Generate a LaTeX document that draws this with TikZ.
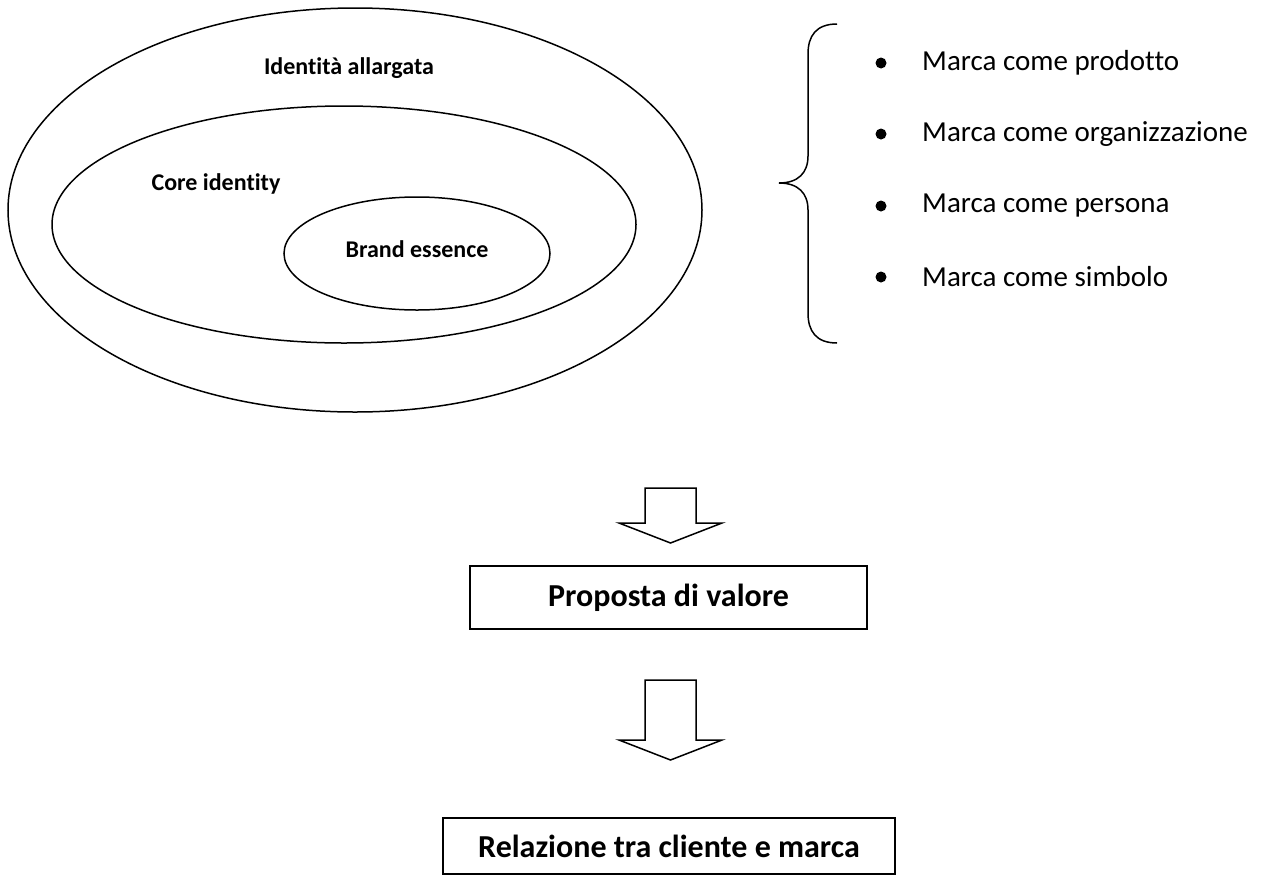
\documentclass[tikz,border=0pt]{standalone}
\usepackage{fontspec}
\setmainfont[Ligatures={NoCommon}]{Carlito}
\usetikzlibrary{shapes.geometric}
\begin{document}
\begin{tikzpicture}[x=1pt,y=-1pt,
  line/.style={draw=black,line width=1.5pt},
  lbl/.style={font=\fontsize{24}{29}\selectfont\bfseries,inner sep=0pt},
  item/.style={font=\fontsize{29}{35}\selectfont,anchor=west,inner sep=0pt},
  dot/.style={circle,fill=black,minimum size=11pt,inner sep=0pt},
  boxtext/.style={font=\fontsize{32}{38}\selectfont\bfseries,inner sep=0pt},
  blockarrow/.style={line,fill=white,line join=miter}]
\useasboundingbox (0,0) rectangle (1266,876);
% ellipses
\node[line,ellipse,minimum width=694pt,minimum height=404pt,inner sep=0pt] (outer) at (355,210) {};
\node[line,ellipse,minimum width=584pt,minimum height=237pt,inner sep=0pt] (middle) at (344,224.5) {};
\node[line,ellipse,minimum width=266pt,minimum height=113pt,inner sep=0pt] (inner) at (417,253.5) {};
\node[lbl] (tIA) at (349,68) {Identità allargata};
\node[lbl] (tCI) at (216,184) {Core identity};
\node[lbl] (tBE) at (417,249) {Brand essence};
% brace
\draw[line] (837,24) .. controls (816,24) and (808,36) .. (808,54) -- (808,156)
  .. controls (808,173) and (798,183) .. (779,183)
  .. controls (798,183) and (808,193) .. (808,210) -- (808,313)
  .. controls (808,331) and (816,343) .. (837,343);
% bullet list
\node[dot] (d1) at (881,63) {};
\node[dot] (d2) at (881,134) {};
\node[dot] (d3) at (881,206) {};
\node[dot] (d4) at (881,277) {};
\node[item] (i1) at (922,63) {Marca come prodotto};
\node[item] (i2) at (922,134) {Marca come organizzazione};
\node[item] (i3) at (922,206) {Marca come persona};
\node[item] (i4) at (922,277) {Marca come simbolo};
% block arrows
\draw[blockarrow] (645,488) -- (696,488) -- (696,523) -- (722,523) -- (670.5,543) -- (619,523) -- (645,523) -- cycle;
\draw[blockarrow] (645,680) -- (696,680) -- (696,740) -- (722,740) -- (670.5,760) -- (619,740) -- (645,740) -- cycle;
% boxes
\node[line,minimum width=397pt,minimum height=63pt,inner sep=0pt] (box1) at (668.5,597.5) {};
\node[boxtext] (t1) at (box1.center) {Proposta di valore};
\node[line,minimum width=452pt,minimum height=56pt,inner sep=0pt] (box2) at (669,846) {};
\node[boxtext] (t2) at (box2.center) {Relazione tra cliente e marca};
\end{tikzpicture}
\end{document}
